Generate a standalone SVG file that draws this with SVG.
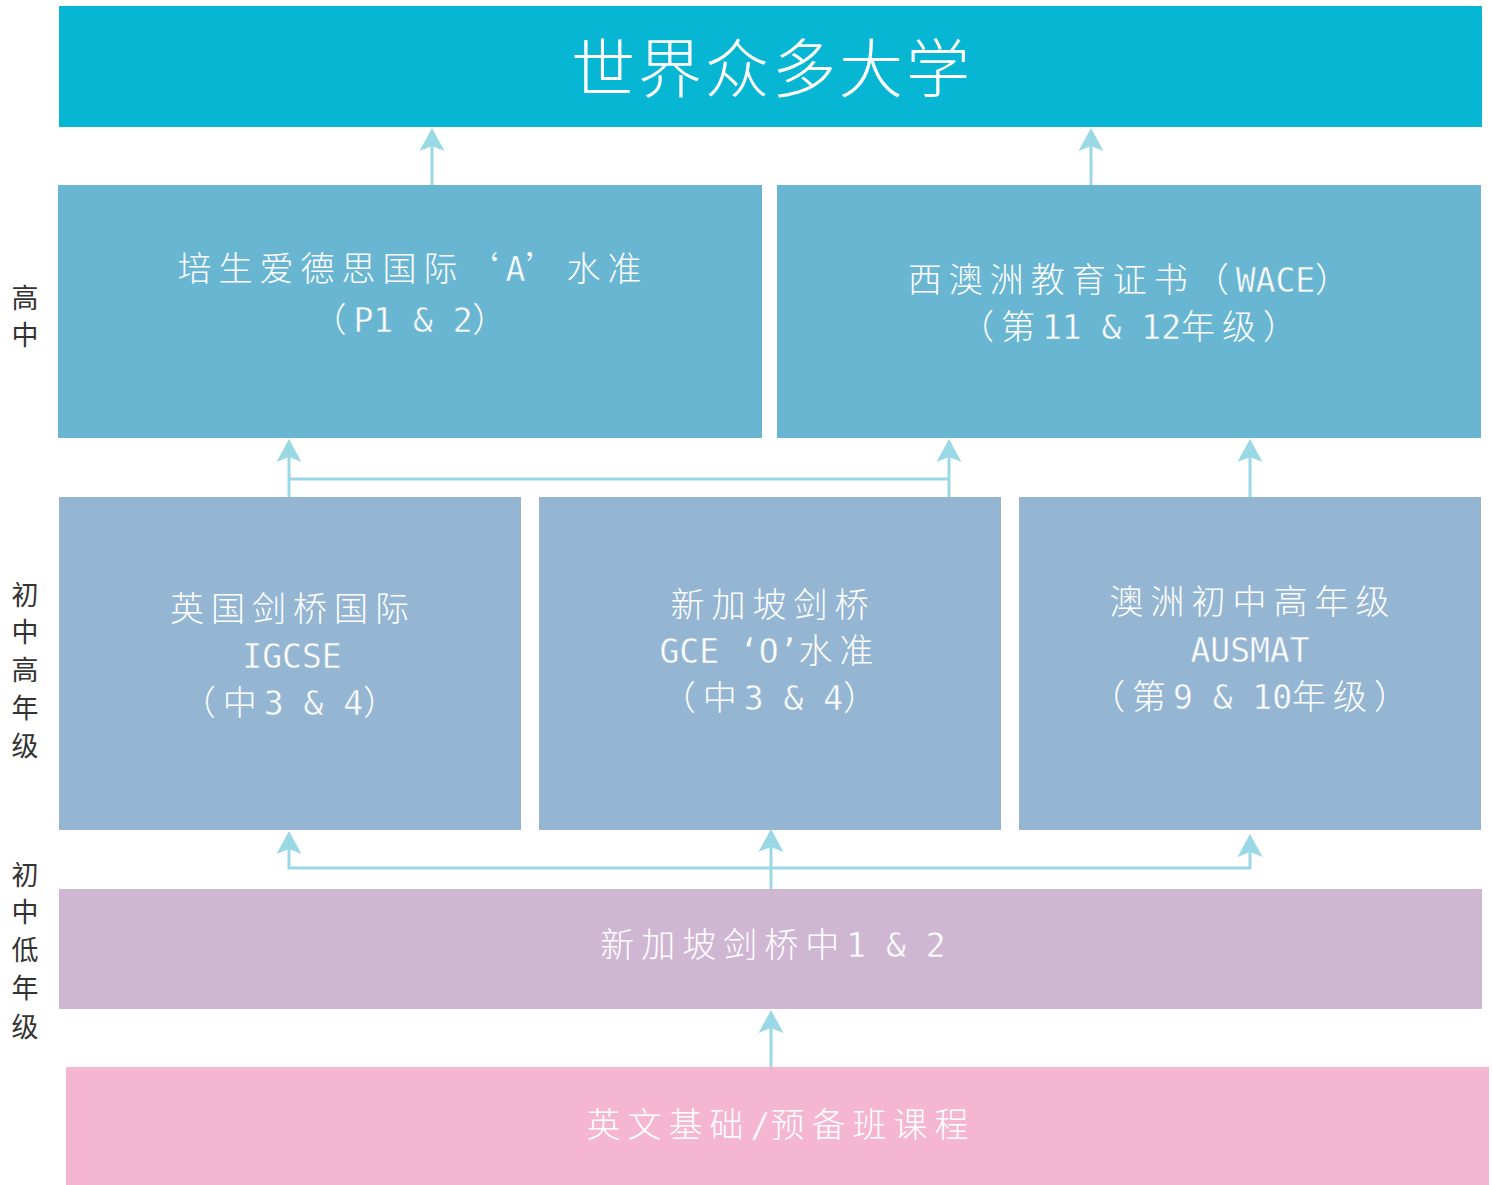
<svg xmlns="http://www.w3.org/2000/svg" xmlns:xlink="http://www.w3.org/1999/xlink" width="1492" height="1185" viewBox="0 0 1492 1185">
<style>
.t{font-family:"Noto Sans CJK SC","Noto Sans CJK TC",sans-serif;font-weight:300;font-size:34px;letter-spacing:7px;fill:#ffffff;text-anchor:middle}
.lt{font-family:"DejaVu Sans Mono","Liberation Mono",monospace;font-size:33px;letter-spacing:0px;stroke-width:0.5px}
#node-alevel .lt,#node-wace .lt{stroke:#69b6d3}
#node-igcse .lt,#node-gce .lt,#node-ausmat .lt{stroke:#95b6d3}
#node-sec12 .lt{stroke:#cfb7d4}
#node-foundation .lt{stroke:#f5b6d2}
.title{font-size:64px;letter-spacing:3px}
.side{font-family:"Noto Sans CJK SC",sans-serif;font-weight:400;font-size:27px;fill:#333333;text-anchor:middle}
.ln{stroke:#9ad8e5;stroke-width:3;fill:none}
.ah{fill:#9ad8e5}
</style>
<defs>
<path id="ah" class="ah" d="M0,0 L12.5,23 L0,18 L-12.5,23 Z"/>
</defs>
<rect width="1492" height="1185" fill="#ffffff"/>

<g id="side-labels">
<text class="side"><tspan x="25" y="308">高</tspan><tspan x="25" y="345">中</tspan></text>
<text class="side"><tspan x="25" y="605">初</tspan><tspan x="25" y="642">中</tspan><tspan x="25" y="680">高</tspan><tspan x="25" y="718">年</tspan><tspan x="25" y="756">级</tspan></text>
<text class="side"><tspan x="25" y="885">初</tspan><tspan x="25" y="922">中</tspan><tspan x="25" y="960">低</tspan><tspan x="25" y="998">年</tspan><tspan x="25" y="1037">级</tspan></text>
</g>

<g id="node-universities">
<rect x="59" y="6" width="1423" height="121" fill="#06b6d2"/>
<text class="t title" x="772" y="92">世界众多大学</text>
</g>

<g id="node-alevel">
<rect x="58" y="185" width="704" height="253" fill="#69b6d3"/>
<text class="t" x="413" y="281">培生爱德思国际‘<tspan class="lt">A</tspan>’水准</text>
<text class="t" x="413" y="332">（<tspan class="lt">P1 &amp; 2</tspan>）</text>
</g>

<g id="node-wace">
<rect x="777" y="185" width="704" height="253" fill="#69b6d3"/>
<text class="t" x="1132" y="292">西澳洲教育证书（<tspan class="lt">WACE</tspan>）</text>
<text class="t" x="1132" y="339">（第<tspan class="lt">11 &amp; 12</tspan>年级）</text>
</g>

<g id="node-igcse">
<rect x="59" y="497" width="462" height="333" fill="#95b6d3"/>
<text class="t" x="293" y="621">英国剑桥国际</text>
<text class="t" x="292" y="668"><tspan class="lt">IGCSE</tspan></text>
<text class="t" x="293" y="715">（中<tspan class="lt">3 &amp; 4</tspan>）</text>
</g>

<g id="node-gce">
<rect x="539" y="497" width="462" height="333" fill="#95b6d3"/>
<text class="t" x="773" y="617">新加坡剑桥</text>
<text class="t" x="770" y="663"><tspan class="lt">GCE ‘O’</tspan>水准</text>
<text class="t" x="773" y="710">（中<tspan class="lt">3 &amp; 4</tspan>）</text>
</g>

<g id="node-ausmat">
<rect x="1019" y="497" width="462" height="333" fill="#95b6d3"/>
<text class="t" x="1253" y="614">澳洲初中高年级</text>
<text class="t" x="1250" y="662"><tspan class="lt">AUSMAT</tspan></text>
<text class="t" x="1253" y="709">（第<tspan class="lt">9 &amp; 10</tspan>年级）</text>
</g>

<g id="node-sec12">
<rect x="59" y="889" width="1423" height="120" fill="#cfb7d4"/>
<text class="t" x="773" y="957">新加坡剑桥中<tspan class="lt">1 &amp; 2</tspan></text>
</g>

<g id="node-foundation">
<rect x="66" y="1067" width="1423" height="118" fill="#f5b6d2"/>
<text class="t" x="781" y="1137">英文基础<tspan class="lt">/</tspan>预备班课程</text>
</g>

<g id="connectors">
<line class="ln" x1="432" y1="185" x2="432" y2="145"/>
<use xlink:href="#ah" x="432" y="128"/>
<line class="ln" x1="1091" y1="185" x2="1091" y2="145"/>
<use xlink:href="#ah" x="1091" y="128"/>

<polyline class="ln" points="289,497 289,456"/>
<use xlink:href="#ah" x="289" y="439"/>
<polyline class="ln" points="289,479 949,479"/>
<polyline class="ln" points="949,497 949,456"/>
<use xlink:href="#ah" x="949" y="439"/>
<polyline class="ln" points="1250,497 1250,456"/>
<use xlink:href="#ah" x="1250" y="439"/>

<polyline class="ln" points="289,849 289,868 1250,868 1250,852"/>
<use xlink:href="#ah" x="289" y="831"/>
<use xlink:href="#ah" x="1250" y="834"/>
<polyline class="ln" points="771,889 771,846"/>
<use xlink:href="#ah" x="771" y="829"/>

<polyline class="ln" points="771,1067 771,1027"/>
<use xlink:href="#ah" x="771" y="1010"/>
</g>
</svg>
